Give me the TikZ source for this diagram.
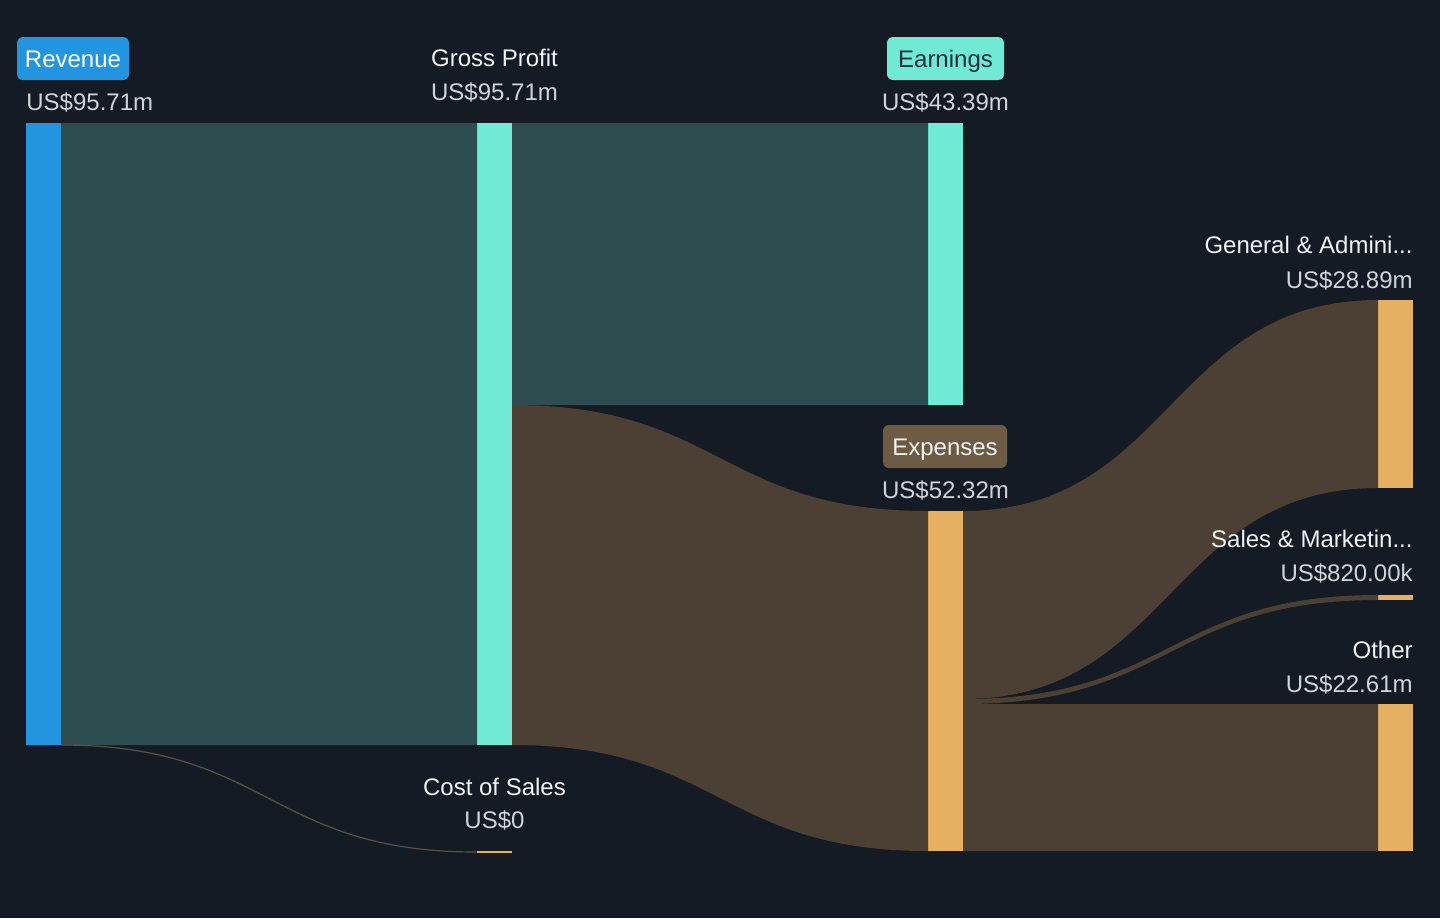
\documentclass[tikz,border=0pt]{standalone}
\usepackage{fontspec}
\setmainfont{Liberation Sans}
\usetikzlibrary{calc}
\definecolor{bgdark}{HTML}{151B24}
\definecolor{revblue}{HTML}{2394DF}
\definecolor{tealbar}{HTML}{70E9D5}
\definecolor{tealflow}{HTML}{2D4D50}
\definecolor{brownflow}{HTML}{4B4033}
\definecolor{costline}{HTML}{5A5044}
\definecolor{orangebar}{HTML}{E5B062}
\definecolor{expbrown}{HTML}{6E5B43}
\definecolor{earntext}{HTML}{17313A}
\definecolor{valgray}{HTML}{D0D3D9}
\definecolor{lblwhite}{HTML}{F0F2F5}
% one band of the sankey: top start, bottom start, top end, bottom end, colour
\newcommand{\band}[5]{\fill[#5] (#1) .. controls +(208,0) and +(-208,0) .. (#3) -- (#4) .. controls +(-208,0) and +(208,0) .. (#2) -- cycle;}
\begin{document}
\begin{tikzpicture}[x=0.5pt,y=-0.5pt,
    bar/.style={rectangle,inner sep=0pt,outer sep=0pt,minimum width=17.5pt},
    tagbox/.style={rectangle,rounded corners=3pt,inner sep=0pt,minimum height=21.5pt,text height=8.6pt,text depth=0pt,font=\fontsize{12}{14}\selectfont},
    lbl/.style={text=lblwhite,inner sep=0pt,font=\fontsize{12}{14}\selectfont},
    val/.style={text=valgray,inner sep=0pt,font=\fontsize{12}{14}\selectfont}]
    \fill[bgdark] (0,0) rectangle (1440,918);
    \useasboundingbox (0,0) rectangle (1440,918);
      % bars
      \node[bar,fill=revblue,minimum height=311pt] (rev) at (43.5,434) {};
      \node[bar,fill=tealbar,minimum height=311pt] (gp) at (494.5,434) {};
      \node[bar,fill=orangebar,minimum height=1pt] (cos) at (494.5,852) {};
      \node[bar,fill=tealbar,minimum height=141pt] (earn) at (945.5,264) {};
      \node[bar,fill=orangebar,minimum height=170pt] (exp) at (945.5,681) {};
      \node[bar,fill=orangebar,minimum height=94pt] (ga) at (1395.5,394) {};
      \node[bar,fill=orangebar,minimum height=2.5pt] (sm) at (1395.5,597.5) {};
      \node[bar,fill=orangebar,minimum height=73.5pt] (oth) at (1395.5,777.5) {};
      \coordinate (gpcut) at ($(gp.north east)+(0,282)$);
      \coordinate (expcut1) at ($(exp.north east)+(0,188)$);
      \coordinate (expcut2) at ($(exp.north east)+(0,193)$);
      % flows
      \band{rev.north east}{rev.south east}{gp.north west}{gp.south west}{tealflow}
      \band{gp.north east}{gpcut}{earn.north west}{earn.south west}{tealflow}
      \band{gpcut}{gp.south east}{exp.north west}{exp.south west}{brownflow}
      \band{exp.north east}{expcut1}{ga.north west}{ga.south west}{brownflow}
      \band{expcut1}{expcut2}{sm.north west}{sm.south west}{brownflow}
      \band{expcut2}{exp.south east}{oth.north west}{oth.south west}{brownflow}
      \draw[costline,line width=0.6pt] (rev.south east) .. controls +(208,0) and +(-208,0) .. (cos.west);
      % labels
      \node[tagbox,fill=revblue,text=white,minimum width=56pt] (revlbl) at (73,58.5) {Revenue};
      \node[val,anchor=base west] (revval) at (26,110.7) {US\$95.71m};
      \node[lbl,anchor=base] (gplbl) at (494.5,66.7) {Gross Profit};
      \node[val,anchor=base] (gpval) at (494.5,100) {US\$95.71m};
      \node[tagbox,fill=tealbar,text=earntext,minimum width=58.5pt] (earnlbl) at (945.5,58.5) {Earnings};
      \node[val,anchor=base] (earnval) at (945.5,110.5) {US\$43.39m};
      \node[tagbox,fill=expbrown,text=lblwhite,minimum width=62pt] (explbl) at (945,446.5) {Expenses};
      \node[val,anchor=base] (expval) at (945.5,498) {US\$52.32m};
      \node[lbl,anchor=base east] (galbl) at (1413,253) {General \& Admini...};
      \node[val,anchor=base east] (gaval) at (1413,288) {US\$28.89m};
      \node[lbl,anchor=base east] (smlbl) at (1413,547) {Sales \& Marketin...};
      \node[val,anchor=base east] (smval) at (1413,581) {US\$820.00k};
      \node[lbl,anchor=base east] (othlbl) at (1413,658) {Other};
      \node[val,anchor=base east] (othval) at (1413,692) {US\$22.61m};
      \node[lbl,anchor=base] (coslbl) at (494.5,795) {Cost of Sales};
      \node[val,anchor=base] (cosval) at (494.5,828) {US\$0};
    \end{tikzpicture}
\end{document}
